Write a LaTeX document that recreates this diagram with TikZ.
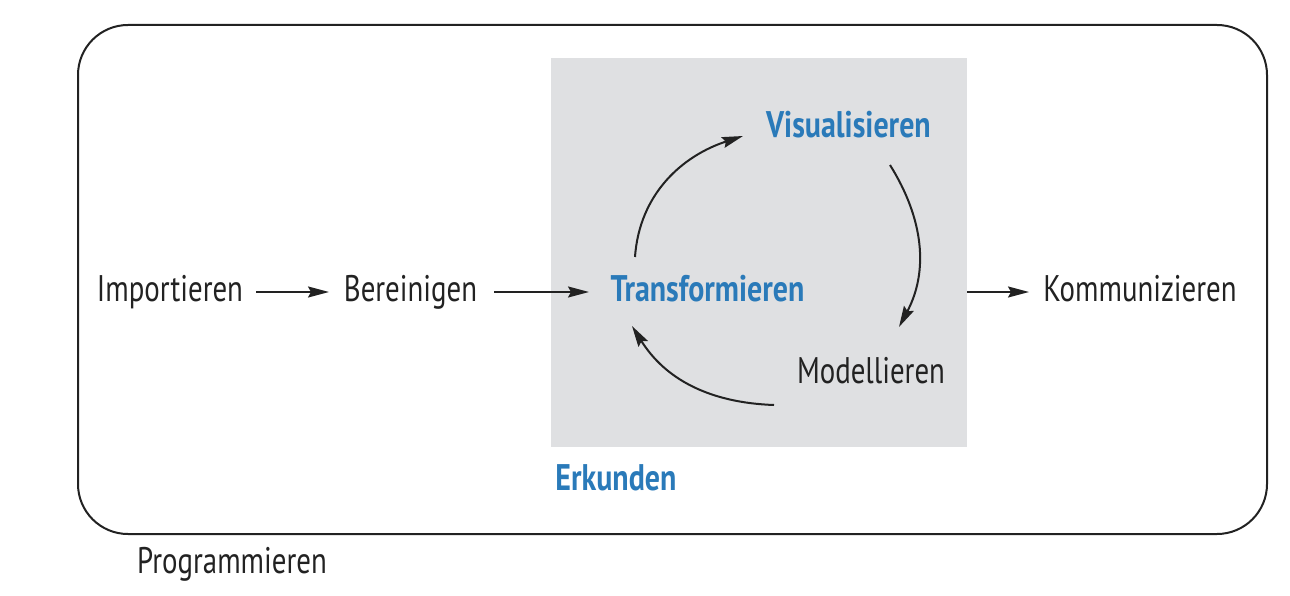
\documentclass[tikz,border=0pt]{standalone}
\usepackage{fontspec}
\setmainfont{PT Sans}[FakeStretch=0.78, BoldFeatures={FakeStretch=0.81}]
\usetikzlibrary{arrows.meta}
\definecolor{rblue}{HTML}{2A7AB9}
\definecolor{rgray}{HTML}{DFE0E2}
\definecolor{rline}{HTML}{222222}
\tikzset{
  lbl/.style={anchor=base, inner sep=0pt, font=\fontsize{37}{40}\selectfont, text=rline},
  blbl/.style={lbl, font=\fontsize{37}{40}\selectfont\bfseries, text=rblue},
  conn/.style={draw=rline, line width=2pt, -{Stealth[length=21pt,width=11pt,inset=3pt]}},
}
\begin{document}
\begin{tikzpicture}[x=1pt,y=-1pt]
\useasboundingbox (0,0) rectangle (1290,596);
% outer frame
\draw[rline, line width=2pt, rounded corners=50pt] (78,25) rectangle (1267,534);
% grey explore area
\fill[rgray] (551,58) rectangle (967,447);
\coordinate (gr) at (967,292);
% labels
\node[lbl]  (imp)  at (170,301)  {Importieren};
\node[lbl]  (ber)  at (410.5,301) {Bereinigen};
\node[blbl] (tra)  at (707.5,301) {Transformieren};
\node[blbl] (vis)  at (848.5,138) {Visualisieren};
\node[lbl]  (mod)  at (871,383)  {Modellieren};
\node[lbl]  (kom)  at (1140,301) {Kommunizieren};
\node[blbl] (erk)  at (616,490)  {Erkunden};
\node[lbl]  (prog) at (232,573)  {Programmieren};
% connector end points
\coordinate (a1) at (256,292);
\coordinate (a2) at (329,292);
\coordinate (b1) at (494,292);
\coordinate (b2) at (589,292);
\coordinate (k2) at (1029,292);
\coordinate (t1) at (635,257);
\coordinate (v1) at (743,136);
\coordinate (v2) at (890,165);
\coordinate (m1) at (899,327);
\coordinate (m2) at (774,405);
\coordinate (t2) at (632,326);
% connectors
\draw[conn] (a1) -- (a2);
\draw[conn] (b1) -- (b2);
\draw[conn] (gr) -- (k2);
\draw[conn] (t1) to[out=86,in=198] (v1);
\draw[conn] (v2) to[out=-58,in=62] (m1);
\draw[conn] (m2) to[out=178,in=-58] (t2);
\end{tikzpicture}
\end{document}
